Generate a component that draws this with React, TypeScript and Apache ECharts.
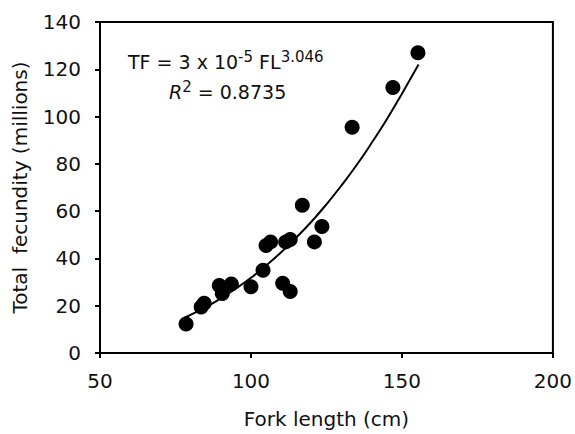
import React, { useEffect, useRef } from "react";
import * as echarts from "echarts";

const forkLength = [78.5, 83.5, 84.5, 89.5, 90.5, 93.5, 100, 104, 105, 106.5, 110.5, 113, 111.5, 113, 117, 121, 123.5, 133.5, 147, 155.3];
const fecundity = [12.3, 19.5, 21, 28.5, 25.2, 29.2, 28, 35, 45.5, 47, 29.5, 26, 47, 48, 62.5, 47, 53.5, 95.5, 112.3, 127];

const fitX = [78, 85, 90, 95, 100, 105, 110, 115, 120, 125, 130, 135, 140, 145, 150, 155.5];
const fitY = [14.9, 19.4, 23.1, 27.3, 31.8, 37.0, 42.6, 48.8, 55.5, 62.9, 70.9, 79.5, 88.9, 98.9, 109.7, 122.0];

const xTicks = [50, 100, 150, 200];
const yTicks = [0, 20, 40, 60, 80, 100, 120, 140];

const FONT = "'DejaVu Sans', sans-serif";
const FS = 20;

export default function App() {
  const ref = useRef<HTMLDivElement>(null);
  useEffect(() => {
    document.body.style.margin = "0";
    document.body.style.overflow = "hidden";
    if (!ref.current) return;
    const chart = echarts.init(ref.current, null, { renderer: "svg" });
    chart.setOption({
      animation: false,
      backgroundColor: "#fff",
      grid: {
        left: 100,
        right: 18,
        top: 22,
        bottom: 77,
        show: true,
        borderColor: "#000",
        borderWidth: 2,
      },
      xAxis: {
        type: "value",
        min: xTicks[0],
        max: xTicks[xTicks.length - 1],
        interval: 50,
        name: "Fork length (cm)",
        nameLocation: "middle",
        nameGap: 56,
        nameTextStyle: { fontFamily: FONT, fontSize: FS, color: "#111" },
        axisLine: { show: true, lineStyle: { color: "#000", width: 2 } },
        axisTick: { show: true, length: 5, lineStyle: { color: "#000", width: 2 } },
        axisLabel: { fontFamily: FONT, fontSize: FS, color: "#111", margin: 18 },
        splitLine: { show: false },
      },
      yAxis: {
        type: "value",
        min: yTicks[0],
        max: yTicks[yTicks.length - 1],
        interval: 20,
        name: "Total  fecundity (millions)",
        nameLocation: "middle",
        nameGap: 70,
        nameTextStyle: { fontFamily: FONT, fontSize: FS, color: "#111" },
        axisLine: { show: true, lineStyle: { color: "#000", width: 2 } },
        axisTick: { show: true, length: 5, lineStyle: { color: "#000", width: 2 } },
        axisLabel: { fontFamily: FONT, fontSize: FS, color: "#111", margin: 19 },
        splitLine: { show: false },
      },
      series: [
        {
          type: "line",
          data: fitX.map((x, i) => [x, fitY[i]]),
          smooth: true,
          showSymbol: false,
          lineStyle: { color: "#000", width: 2 },
          z: 2,
        },
        {
          type: "scatter",
          data: forkLength.map((x, i) => [x, fecundity[i]]),
          symbol: "circle",
          symbolSize: 15,
          itemStyle: { color: "#000", opacity: 1 },
          z: 3,
        },
      ],
      graphic: [
        {
          type: "text",
          left: 128,
          top: 49,
          style: {
            text: "{a|TF = 3 x 10}{s|-5}{a| FL}{s|3.046}",
            rich: {
              a: { fontFamily: FONT, fontSize: 19, lineHeight: 26, fill: "#111" },
              s: { fontFamily: FONT, fontSize: 15, lineHeight: 21, verticalAlign: "top", fill: "#111" },
            },
          },
        },
        {
          type: "text",
          left: 169,
          top: 79,
          style: {
            text: "{i|R}{s|2}{a| = 0.8735}",
            rich: {
              a: { fontFamily: FONT, fontSize: 19, lineHeight: 26, fill: "#111" },
              i: { fontFamily: FONT, fontSize: 19, lineHeight: 26, fontStyle: "italic", fill: "#111" },
              s: { fontFamily: FONT, fontSize: 15, lineHeight: 21, verticalAlign: "top", fill: "#111" },
            },
          },
        },
      ],
    });
    return () => chart.dispose();
  }, []);
  return <div ref={ref} style={{ width: 575, height: 434, position: "absolute", left: 0, top: 0 }} />;
}
